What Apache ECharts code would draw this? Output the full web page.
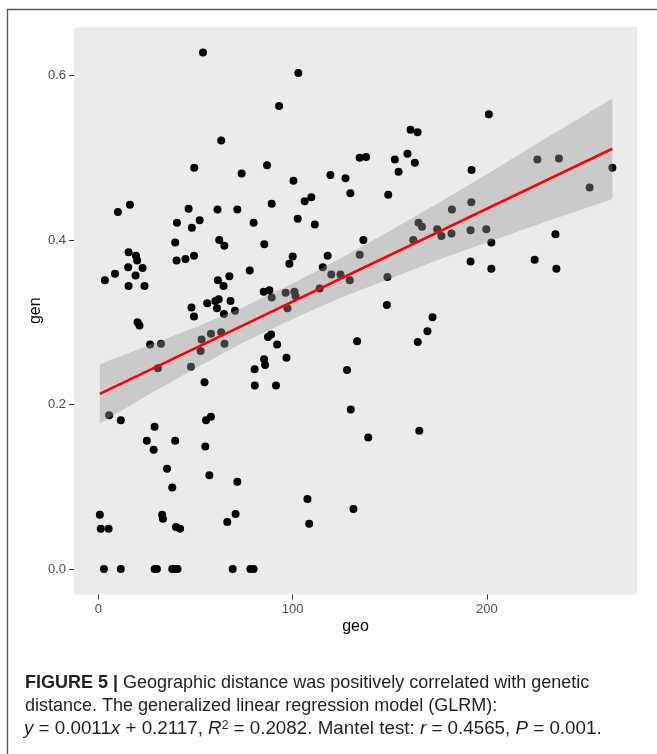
<!DOCTYPE html>
<html>
<head>
<meta charset="utf-8">
<script src="https://cdn.jsdelivr.net/npm/echarts@6.0.0/dist/echarts.min.js"></script>
<style>
  html, body { margin: 0; padding: 0; background: #fff; }
  #main { width: 657px; height: 754px; }
</style>
</head>
<body>
<div id="main"></div>
<script>
// 散点数据 geo / gen
var geo = [
  53.8, 63.2, 49.3, 73.7, 16.2, 10.0, 46.4, 61.3, 71.5, 40.4, 52.1, 48.1, 79.9,
  102.9, 93.0, 160.7, 164.3, 86.8, 134.5, 137.8, 152.6, 159.1, 162.9, 154.5, 119.4, 127.2, 100.4, 129.7, 149.2, 109.6, 106.2, 89.2, 102.6, 111.4, 164.8, 166.6, 174.4,
  201.0, 192.1, 226.0, 237.1, 264.6, 252.9, 182.0, 192.0, 191.6, 199.7,
  39.5, 62.2, 64.8, 40.2, 44.8, 49.2, 15.5, 19.3, 19.9, 15.3, 22.7, 19.1, 8.5, 3.3, 15.5, 23.7, 77.9, 61.5, 67.4, 64.4, 20.1, 21.1, 56.0, 60.2, 61.9, 61.0, 68.0, 70.3, 64.6, 47.9, 49.2, 26.6, 32.2, 53.1, 57.9, 63.2, 64.9, 52.6, 47.6, 30.6, 54.6, 80.4, 80.5,
  5.5, 11.5, 28.9, 24.9, 39.5, 28.4, 55.4, 57.9, 55.0, 35.3, 57.1, 38.0, 71.5, 0.7, 1.2, 5.2, 32.8, 33.2, 39.9, 42.0, 70.6, 66.3,
  2.8, 11.5, 28.9, 30.1, 38.0, 39.4, 40.7, 69.1, 78.2, 79.9,
  129.9, 138.9, 165.2, 107.6, 131.3, 108.5,
  85.4, 100.0, 98.3, 136.4, 118.0, 115.5, 134.5, 119.9, 124.6, 129.4, 148.8, 162.1, 176.6, 85.1, 88.0, 89.2, 96.4, 100.9, 101.5, 113.9, 97.3, 148.5, 172.0, 169.4, 164.4, 133.2, 87.3, 88.9, 92.0, 96.8, 85.3, 85.8, 91.4, 128.0,
  181.8, 202.3, 235.3, 191.6, 202.3, 224.6, 235.8
];
var gen = [
  0.628, 0.521, 0.488, 0.481, 0.443, 0.434, 0.438, 0.437, 0.437, 0.421, 0.424, 0.415, 0.421,
  0.603, 0.563, 0.534, 0.531, 0.491, 0.500, 0.501, 0.498, 0.505, 0.494, 0.483, 0.479, 0.475, 0.472, 0.457, 0.455, 0.452, 0.447, 0.444, 0.426, 0.419, 0.421, 0.416, 0.413,
  0.553, 0.485, 0.498, 0.499, 0.488, 0.464, 0.437, 0.446, 0.412, 0.413,
  0.397, 0.400, 0.393, 0.375, 0.377, 0.381, 0.385, 0.381, 0.375, 0.367, 0.366, 0.357, 0.359, 0.351, 0.344, 0.344, 0.363, 0.351, 0.356, 0.344, 0.300, 0.296, 0.323, 0.326, 0.328, 0.317, 0.326, 0.314, 0.310, 0.318, 0.307, 0.273, 0.274, 0.279, 0.286, 0.288, 0.274, 0.265, 0.246, 0.244, 0.227, 0.243, 0.223,
  0.187, 0.181, 0.173, 0.156, 0.156, 0.145, 0.181, 0.185, 0.149, 0.122, 0.114, 0.099, 0.106, 0.066, 0.049, 0.049, 0.066, 0.061, 0.051, 0.049, 0.067, 0.057,
  0, 0, 0, 0, 0, 0, 0, 0, 0, 0,
  0.194, 0.160, 0.168, 0.085, 0.073, 0.055,
  0.395, 0.380, 0.371, 0.400, 0.381, 0.367, 0.382, 0.358, 0.358, 0.351, 0.355, 0.400, 0.405, 0.337, 0.339, 0.330, 0.336, 0.337, 0.332, 0.341, 0.317, 0.321, 0.306, 0.289, 0.276, 0.277, 0.282, 0.285, 0.273, 0.257, 0.255, 0.248, 0.223, 0.242,
  0.408, 0.397, 0.407, 0.374, 0.365, 0.376, 0.365
];
// 回归线
var fitX = [0.7, 264.6];
var fitY = [0.213, 0.511];
// 置信区间
var bandX = [0.7, 25, 50, 75, 100, 125, 150, 175, 200, 225, 264.6];
var bandLow = [0.177, 0.211, 0.244, 0.276, 0.304, 0.330, 0.353, 0.376, 0.397, 0.418, 0.450];
var bandHigh = [0.249, 0.271, 0.294, 0.319, 0.347, 0.378, 0.411, 0.445, 0.480, 0.516, 0.572];
// 刻度
var xTicks = [0, 100, 200];
var yTicks = [0, 0.2, 0.4, 0.6];

(function () {
  var myChart = echarts.init(document.getElementById('main'), null, {renderer: 'canvas'});
  var FONT = '"Liberation Sans", Arial, sans-serif';
  var points = geo.map(function (x, i) { return [x, gen[i]]; });
  var fitData = fitX.map(function (x, i) { return [x, fitY[i]]; });
  var bandData = bandX.map(function (x, i) { return [x, bandLow[i], bandHigh[i]]; });
  var CAP = 18;
  var CAP3 = 18.8;

  option = {
    animation: false,
    backgroundColor: '#fff',
    grid: {
      left: 74,
      top: 27,
      width: 563,
      height: 567.5,
      show: true,
      backgroundColor: '#EBEBEB',
      borderWidth: 0,
      containLabel: false,
      outerBoundsMode: 'none'
    },
    xAxis: {
      type: 'value',
      min: -12.6,
      max: 277.3,
      name: 'geo',
      nameLocation: 'middle',
      nameGap: 24,
      nameMoveOverlap: false,
      nameTextStyle: {color: '#000', fontSize: 16, fontFamily: FONT},
      axisLine: {show: false, onZero: false},
      splitLine: {show: false},
      axisTick: {show: true, length: 5, customValues: xTicks, lineStyle: {color: '#333', width: 1}},
      axisLabel: {customValues: xTicks, color: '#4d4d4d', fontSize: 13, fontFamily: FONT, margin: 8}
    },
    yAxis: {
      type: 'value',
      min: -0.031,
      max: 0.659,
      name: 'gen',
      nameLocation: 'middle',
      nameRotate: 90,
      nameGap: 30,
      nameMoveOverlap: false,
      nameTextStyle: {color: '#000', fontSize: 16, fontFamily: FONT},
      axisLine: {show: false, onZero: false},
      splitLine: {show: false},
      axisTick: {show: true, length: 5, customValues: yTicks, lineStyle: {color: '#333', width: 1}},
      axisLabel: {
        customValues: yTicks, color: '#4d4d4d', fontSize: 13, fontFamily: FONT, margin: 8,
        formatter: function (v) { return v.toFixed(1); }
      }
    },
    series: [
      {
        name: 'points',
        type: 'scatter',
        data: points,
        symbolSize: 8,
        itemStyle: {color: '#000', opacity: 1},
        z: 2
      },
      {
        name: 'band',
        type: 'custom',
        data: bandData,
        encode: {x: 0, y: [1, 2]},
        silent: true,
        z: 3,
        renderItem: function (params, api) {
          if (params.dataIndex !== 0) return {type: 'group', children: []};
          var pts = [];
          for (var i = 0; i < bandX.length; i++) pts.push(api.coord([bandX[i], bandHigh[i]]));
          for (var j = bandX.length - 1; j >= 0; j--) pts.push(api.coord([bandX[j], bandLow[j]]));
          return {type: 'polygon', shape: {points: pts}, style: {fill: 'rgba(153,153,153,0.4)'}};
        }
      },
      {
        name: 'fit',
        type: 'line',
        data: fitData,
        symbol: 'none',
        lineStyle: {color: '#FF0000', width: 2.6},
        z: 4
      }
    ],
    graphic: [
      {
        type: 'rect',
        shape: {x: 7.5, y: 9.5, width: 700, height: 800},
        style: {fill: 'none', stroke: '#555', lineWidth: 1.3},
        silent: true
      },
      {
        type: 'text', x: 25, y: 683,
        style: {
          text: '{b|FIGURE 5 |} Geographic distance was positively correlated with genetic',
          verticalAlign: 'middle', font: CAP + 'px ' + FONT, fill: '#231f20',
          rich: {b: {fontSize: CAP, fontFamily: FONT, fontWeight: 'bold', color: '#231f20'}}
        }
      },
      {
        type: 'text', x: 25, y: 706,
        style: {
          text: 'distance. The generalized linear regression model (GLRM):',
          verticalAlign: 'middle', font: CAP + 'px ' + FONT, fill: '#231f20'
        }
      },
      {
        type: 'text', x: 24, y: 729,
        style: {
          text: '{i|y} = 0.0011{i|x} + 0.2117, {i|R}{s|2} = 0.2082. Mantel test: {i|r} = 0.4565, {i|P} = 0.001.',
          verticalAlign: 'middle', font: CAP3 + 'px ' + FONT, fill: '#231f20',
          rich: {
            i: {fontSize: CAP3, fontFamily: FONT, fontStyle: 'italic', color: '#231f20'},
            s: {fontSize: 12, fontFamily: FONT, color: '#231f20', verticalAlign: 'top'}
          }
        }
      }
    ]
  };
  myChart.setOption(option);
  window.addEventListener('resize', function () {
    myChart.resize();
  });
})();
</script>
</body>
</html>
